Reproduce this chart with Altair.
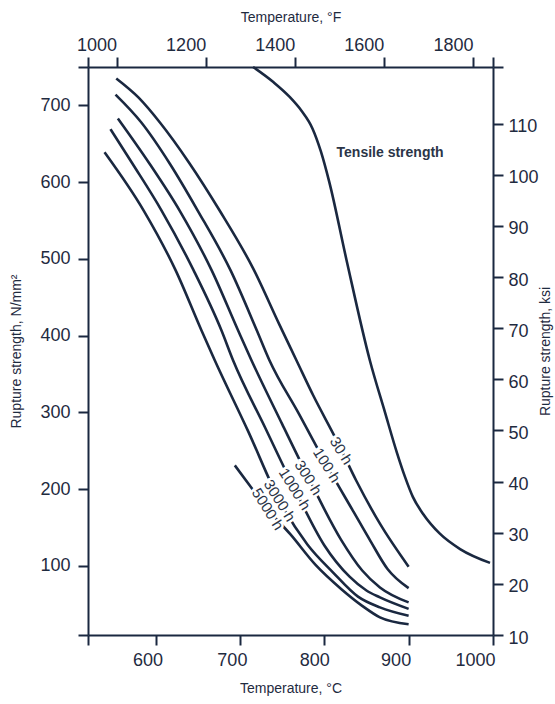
import altair as alt
import pandas as pd

NAVY = "#1a2840"
TXT = "#1f2b3f"
FONT = "Liberation Sans"

# ---- axis ticks ----
c_ticks = [520, 600, 700, 800, 900, 1000]
n_ticks = [10, 100, 200, 300, 400, 500, 600, 700, 750]
f_ticks = [936, 1000, 1200, 1400, 1600, 1800, 1845]
ksi_ticks = [10, 20, 30, 40, 50, 60, 70, 80, 90, 100, 110, 121.1]

# ---- curves (°C, N/mm²) ----
t_30 = [553.5, 580, 605, 640, 676, 716, 747, 767, 787, 815, 838, 866, 900]
v_30 = [735, 710, 678, 625, 563, 487, 414, 368, 322, 263, 211, 155, 99]

t_100 = [552.6, 583, 617, 650, 689, 720, 735, 770, 803, 835, 855, 875, 900]
v_100 = [714, 678, 624, 563, 485, 407, 368, 298, 231, 170, 132, 96, 71]

t_300 = [555.4, 593, 628.6, 666.6, 697.8, 713.7, 750, 781, 820, 845, 866, 900]
v_300 = [683, 624, 563, 485, 407, 368, 285, 215.5, 134, 94, 72, 52.5]

t_1000 = [546.7, 572.8, 607.2, 645.2, 678.1, 691.9, 730, 765, 800, 830, 850, 866, 900]
v_1000 = [669, 624, 563, 485, 407, 368, 280, 200, 127, 86, 68, 59, 44]

t_3000 = [539.6, 586, 623.9, 654.4, 670.2, 710, 747, 780, 810, 840, 866, 900]
v_3000 = [639, 563, 485, 407, 368, 275, 185, 128, 92, 60, 46, 35]

t_5000 = [694, 715, 733, 760, 790, 820, 845, 866, 900]
v_5000 = [231, 200, 174, 141, 101, 70, 48, 33, 24]

t_tens = [715.6, 740, 759, 773, 786, 796, 806, 826.5, 854, 872, 886, 895.7, 905, 917, 937, 961, 996.5]
v_tens = [750, 730, 711, 693, 670, 640, 600, 498, 368, 300, 248, 216, 190, 168, 142, 122, 104]

# ---- curve labels ----
lab_text = ["30 h", "100 h", "300 h", "1000 h", "3000 h", "5000 h"]
lab_c = [820, 803, 781, 765, 747, 733]
lab_n = [250, 231, 215, 200, 185, 174]

tens_text = ["Tensile strength"]
tens_c = [814.6]
tens_n = [638]

rows = []
for name, ts, vs in [("30 h", t_30, v_30), ("100 h", t_100, v_100), ("300 h", t_300, v_300),
                     ("1000 h", t_1000, v_1000), ("3000 h", t_3000, v_3000),
                     ("5000 h", t_5000, v_5000), ("tensile", t_tens, v_tens)]:
    for i, (t, v) in enumerate(zip(ts, vs)):
        rows.append({"curve": name, "C": t, "N": v, "o": i})
df = pd.DataFrame(rows)
df_lab = pd.DataFrame({"C": lab_c, "N": lab_n, "txt": lab_text})
df_tens = pd.DataFrame({"C": tens_c, "N": tens_n, "txt": tens_text})
df_aux = pd.DataFrame({"F": [f_ticks[0], f_ticks[-1]], "K": [ksi_ticks[0], ksi_ticks[-1]]})

xs = alt.Scale(domain=[520, 1000], nice=False, zero=False)
ys = alt.Scale(domain=[10, 750], nice=False, zero=False)

common_axis = dict(tickSize=10, tickWidth=2, domainWidth=2, tickColor=NAVY, domainColor=NAVY,
                   labelColor=TXT, labelFont=FONT, labelFontSize=18, titleFont=FONT,
                   titleFontSize=14, titleFontWeight="normal", titleColor=TXT, grid=False,
                   format="d", labelFlush=False)

x_axis = alt.Axis(values=c_ticks, labelExpr="datum.value == 520 ? '' : datum.label",
                  title="Temperature, °C", labelPadding=6, titlePadding=12,
                  labelOffset={"condition": [{"test": "datum.value == 1000", "value": -18},
                                             {"test": "datum.value == 900", "value": -13},
                                             {"test": "datum.value == 800", "value": -10}],
                               "value": -8},
                  **common_axis)
y_axis = alt.Axis(values=n_ticks, labelExpr="(datum.value == 10 || datum.value == 750) ? '' : datum.label",
                  title="Rupture strength, N/mm²", labelPadding=8, titlePadding=16, **common_axis)

lines = alt.Chart(df).mark_line(color=NAVY, strokeWidth=2.6, interpolate="monotone").encode(
    x=alt.X("C:Q", scale=xs, axis=x_axis),
    y=alt.Y("N:Q", scale=ys, axis=y_axis),
    detail="curve:N",
    order="o:Q",
)

halo = alt.Chart(df_lab).mark_text(font=FONT, fontSize=15, angle=58, stroke="white", strokeWidth=5,
                                    color="white").encode(
    x=alt.X("C:Q", scale=xs, axis=None), y=alt.Y("N:Q", scale=ys, axis=None), text="txt:N")
labels = alt.Chart(df_lab).mark_text(font=FONT, fontSize=15, angle=58, color="#2b3548").encode(
    x=alt.X("C:Q", scale=xs, axis=None), y=alt.Y("N:Q", scale=ys, axis=None), text="txt:N")
tens = alt.Chart(df_tens).mark_text(font=FONT, fontSize=14, fontWeight="bold", align="left",
                                     color="#2b3548").encode(
    x=alt.X("C:Q", scale=xs, axis=None), y=alt.Y("N:Q", scale=ys, axis=None), text="txt:N")

aux = alt.Chart(df_aux).mark_point(opacity=0).encode(
    x=alt.X("F:Q", scale=alt.Scale(domain=[f_ticks[0], f_ticks[-1]], nice=False, zero=False),
            axis=alt.Axis(orient="top", values=f_ticks,
                          labelExpr="(datum.value == 936 || datum.value == 1845) ? '' : datum.label",
                          title="Temperature, °F", labelPadding=3, titlePadding=12, labelOffset=-20,
                          **common_axis)),
    y=alt.Y("K:Q", scale=alt.Scale(domain=[ksi_ticks[0], ksi_ticks[-1]], nice=False, zero=False),
            axis=alt.Axis(orient="right", values=ksi_ticks,
                          labelExpr="datum.value > 120 ? '' : datum.label",
                          title="Rupture strength, ksi", titleAngle=270, labelPadding=5,
                          titlePadding=14, labelOffset=3, **common_axis)),
)

chart = alt.layer(lines, halo, labels, tens, aux).resolve_scale(
    x="independent", y="independent"
).properties(
    width=405, height=568, autosize=alt.AutoSizeParams(type="none"),
    padding={"left": 88, "top": 67, "right": 62, "bottom": 69},
    background="white",
).configure_view(stroke=None)

chart.save("out.html", embed_options={"renderer": "svg", "actions": False})
